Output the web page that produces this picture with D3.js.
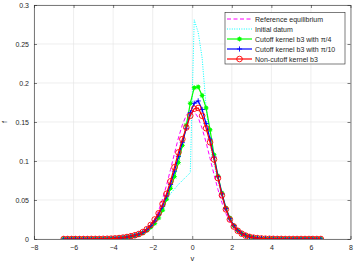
<!doctype html>
<html>
<head>
<meta charset="utf-8"/>
<script src="https://d3js.org/d3.v7.min.js"></script>
<style>
body{margin:0;background:#fff;}
text{font-family:"Liberation Sans",Arial,sans-serif;}
</style>
</head>
<body>
<script>
// velocity grid
var v = [-6.5,-6.3,-6.1,-5.9,-5.7,-5.5,-5.3,-5.1,-4.9,-4.7,-4.5,-4.3,
  -4.1,-3.9,-3.7,-3.5,-3.3,-3.1,-2.9,-2.7,-2.5,-2.3,-2.1,-1.9,-1.7,-1.5,-1.3,-1.1,-0.9,-0.7,-0.5,-0.3,-0.1,
  0.1,0.3,0.5,0.7,0.9,1.1,1.3,1.5,1.7,1.9,2.1,2.3,2.5,2.7,2.9,3.1,3.3,3.5,3.7,3.9,4.1,4.3,4.5,
  4.7,4.9,5.1,5.3,5.5,5.7,5.9,6.1,6.3,6.5];

var fEquil = [0,0,0,0,0,0,0,0,0,0,0,0,
  0,0,0.0001,0.0002,0.0005,0.0010,0.0019,0.0035,0.0061,0.0102,0.0163,0.0249,0.0365,0.0513,0.0690,0.0889,0.1096,0.1295,0.1464,0.1586,0.1646,
  0.1635,0.1556,0.1418,0.1237,0.1034,0.0827,0.0634,0.0466,0.0327,0.0220,0.0142,0.0088,0.0052,0.0029,0.0016,0.0008,0.0004,0.0002,0.0001,0,0,0,0,
  0,0,0,0,0,0,0,0,0,0];

var fInit = [0,0,0,0,0,0,0,0,0,0,0,0.0001,
  0.0003,0.0005,0.0008,0.0013,0.002,0.003,0.0043,0.006,0.0085,0.012,0.017,0.023,0.031,0.043,0.051,0.058,0.064,0.070,0.075,0.080,0.085,
  0.281,0.265,0.232,0.170,0.122,0.096,0.074,0.054,0.037,0.025,0.016,0.010,0.0065,0.0041,0.0026,0.0016,0.001,0.0006,0.0004,0.0002,0.0001,0.0001,0,
  0,0,0,0,0,0,0,0,0,0];

var fPi4 = [0,0,0,0,0,0,0,0,0.0001,0.0001,0.0001,0.0002,
  0.0004,0.0006,0.0010,0.0015,0.0023,0.0032,0.0044,0.0058,0.0079,0.011,0.015,0.020,0.027,0.037,0.051,0.065,0.080,0.098,0.120,0.146,0.174,
  0.194,0.195,0.184,0.168,0.140,0.108,0.081,0.059,0.040,0.027,0.017,0.011,0.0072,0.0046,0.0029,0.0018,0.0011,0.0007,0.0004,0.0003,0.0002,0.0001,0.0001,
  0,0,0,0,0,0,0,0,0,0];

var fPi10 = [0,0,0,0,0,0,0,0,0.0001,0.0001,0.0001,0.0002,
  0.0004,0.0007,0.0011,0.0017,0.0025,0.0035,0.0047,0.0062,0.0085,0.012,0.017,0.023,0.031,0.042,0.055,0.070,0.087,0.106,0.124,0.142,0.162,
  0.174,0.177,0.166,0.148,0.128,0.105,0.080,0.058,0.039,0.026,0.017,0.011,0.0071,0.0045,0.0028,0.0018,0.0011,0.0007,0.0004,0.0003,0.0002,0.0001,0.0001,
  0,0,0,0,0,0,0,0,0,0];

var fNonCut = [0,0,0,0,0,0,0,0.0001,0.0001,0.0001,0.0002,0.0003,
  0.0005,0.0008,0.0012,0.0018,0.0026,0.0036,0.0048,0.0064,0.0089,0.0125,0.018,0.025,0.033,0.045,0.058,0.074,0.092,0.111,0.128,0.143,0.158,
  0.167,0.168,0.158,0.142,0.124,0.102,0.078,0.056,0.038,0.025,0.016,0.0105,0.0068,0.0043,0.0027,0.0017,0.0011,0.0007,0.0004,0.0003,0.0002,0.0001,0.0001,
  0,0,0,0,0,0,0,0,0,0];

var xTicks = [-8,-6,-4,-2,0,2,4,6,8];
var yTicks = [0,0.05,0.1,0.15,0.2,0.25,0.3];
var yTickLabels = ["0","0.05","0.1","0.15","0.2","0.25","0.3"];
var legendNames = ["Reference equilibrium","Initial datum","Cutoff kernel b3 with \u03c0/4","Cutoff kernel b3 with \u03c0/10","Non-cutoff kernel b3"];

var W = 354, H = 266;
var L = 34, R = 350.5, T = 5, B = 239;
var axCol = "#262626";

var svg = d3.select("body").append("svg")
  .attr("width", W).attr("height", H);

var x = d3.scaleLinear().domain([-8, 8]).range([L, R]);
var y = d3.scaleLinear().domain([0, 0.3]).range([B, T]);

svg.append("rect").attr("x", L).attr("y", T).attr("width", R - L).attr("height", B - T).attr("fill", "#fff");

// grid
svg.append("g").selectAll("line").data(xTicks).enter().append("line")
  .attr("x1", d => x(d)).attr("x2", d => x(d)).attr("y1", T).attr("y2", B)
  .attr("stroke", "#e6e6e6").attr("stroke-width", 0.7);
svg.append("g").selectAll("line").data(yTicks).enter().append("line")
  .attr("y1", d => y(d)).attr("y2", d => y(d)).attr("x1", L).attr("x2", R)
  .attr("stroke", "#e6e6e6").attr("stroke-width", 0.7);

function styleAxis(g) {
  g.selectAll("path").attr("stroke", axCol).attr("stroke-width", 0.6);
  g.selectAll("line").attr("stroke", axCol).attr("stroke-width", 0.6);
  g.selectAll("text").attr("fill", axCol).style("font-size", "7px")
    .style("font-family", "'Liberation Sans', Arial, sans-serif");
}

svg.append("g").attr("transform", "translate(0," + B + ")")
  .call(d3.axisBottom(x).tickValues(xTicks).tickSizeInner(-3).tickSizeOuter(0).tickPadding(6).tickFormat(d3.format("d")))
  .call(styleAxis);
svg.append("g").attr("transform", "translate(0," + T + ")")
  .call(d3.axisTop(x).tickValues(xTicks).tickSizeInner(-3).tickSizeOuter(0).tickFormat(""))
  .call(styleAxis);
svg.append("g").attr("transform", "translate(" + L + ",0)")
  .call(d3.axisLeft(y).tickValues(yTicks).tickSizeInner(-3).tickSizeOuter(0).tickPadding(5)
    .tickFormat((d, i) => yTickLabels[i]))
  .call(styleAxis);
svg.append("g").attr("transform", "translate(" + R + ",0)")
  .call(d3.axisRight(y).tickValues(yTicks).tickSizeInner(-3).tickSizeOuter(0).tickFormat(""))
  .call(styleAxis);

// axis labels
svg.append("text").attr("x", (L + R) / 2).attr("y", 261).attr("text-anchor", "middle")
  .attr("fill", axCol).style("font-size", "7.5px").text("v");
svg.append("text").attr("transform", "translate(7," + ((T + B) / 2) + ") rotate(-90)")
  .attr("text-anchor", "middle").attr("fill", axCol).style("font-size", "7.5px").text("f");

var clip = svg.append("defs").append("clipPath").attr("id", "clip");
clip.append("rect").attr("x", L).attr("y", T).attr("width", R - L).attr("height", B - T);

var plot = svg.append("g").attr("clip-path", "url(#clip)");
var line = d3.line().x((d, i) => x(v[i])).y(d => y(d));

var series = [
  {vals: fEquil, color: "#ff00ff", dash: "4,2.5", width: 1, marker: null},
  {vals: fInit, color: "#00ffff", dash: "1,1.4", width: 1, marker: null},
  {vals: fPi4, color: "#00ff00", dash: null, width: 1.2, marker: "star"},
  {vals: fPi10, color: "#0000ff", dash: null, width: 1.2, marker: "plus"},
  {vals: fNonCut, color: "#ff0000", dash: null, width: 1.2, marker: "circle"}
];

function drawMarker(g, type, color, cx, cy) {
  if (type === "circle") {
    g.append("circle").attr("cx", cx).attr("cy", cy).attr("r", 2.8)
      .attr("fill", "none").attr("stroke", color).attr("stroke-width", 0.9);
  } else if (type === "plus") {
    g.append("path").attr("d", "M" + (cx - 2.6) + "," + cy + "H" + (cx + 2.6) + "M" + cx + "," + (cy - 2.6) + "V" + (cy + 2.6))
      .attr("stroke", color).attr("stroke-width", 0.9);
  } else if (type === "star") {
    g.append("circle").attr("cx", cx).attr("cy", cy).attr("r", 1.9).attr("fill", color);
    g.append("path").attr("d", "M" + (cx - 2.6) + "," + cy + "H" + (cx + 2.6) + "M" + cx + "," + (cy - 2.6) + "V" + (cy + 2.6) +
      "M" + (cx - 1.8) + "," + (cy - 1.8) + "L" + (cx + 1.8) + "," + (cy + 1.8) + "M" + (cx - 1.8) + "," + (cy + 1.8) + "L" + (cx + 1.8) + "," + (cy - 1.8))
      .attr("stroke", color).attr("stroke-width", 0.7);
  }
}

series.forEach(function(s) {
  var p = plot.append("path").datum(s.vals).attr("d", line)
    .attr("fill", "none").attr("stroke", s.color).attr("stroke-width", s.width);
  if (s.dash) p.attr("stroke-dasharray", s.dash);
  if (s.marker) {
    var g = plot.append("g");
    s.vals.forEach(function(d, i) { drawMarker(g, s.marker, s.color, x(v[i]), y(d)); });
  }
});

// legend
var lg = svg.append("g");
var lx = 225, ly = 12.5, lw = 120, lh = 51.5;
lg.append("rect").attr("x", lx).attr("y", ly).attr("width", lw).attr("height", lh)
  .attr("fill", "#fff").attr("stroke", axCol).attr("stroke-width", 0.6);
legendNames.forEach(function(name, i) {
  var s = series[i];
  var yy = ly + 6.5 + i * 10;
  var ln = lg.append("line").attr("x1", lx + 2).attr("x2", lx + 27).attr("y1", yy).attr("y2", yy)
    .attr("stroke", s.color).attr("stroke-width", s.width);
  if (s.dash) ln.attr("stroke-dasharray", s.dash);
  if (s.marker) drawMarker(lg, s.marker, s.color, lx + 14.5, yy);
  lg.append("text").attr("x", lx + 30).attr("y", yy + 2.5).attr("fill", axCol)
    .style("font-size", "7px").text(name);
});
</script>
</body>
</html>
